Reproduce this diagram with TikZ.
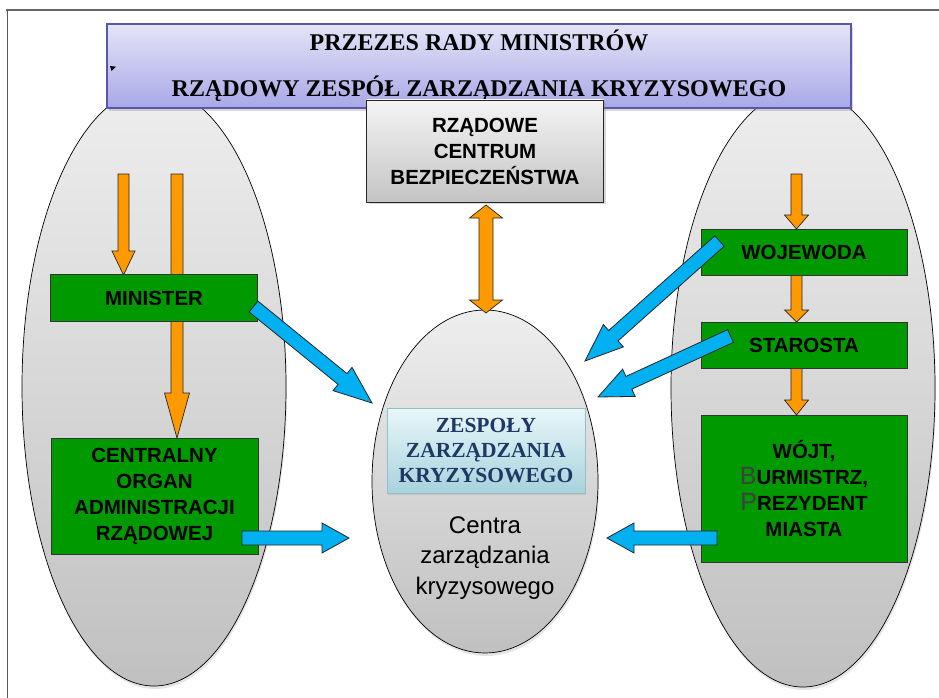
\documentclass[tikz,border=0pt]{standalone}
\usepackage{fontspec}
\setmainfont{Liberation Serif}
\setsansfont{Liberation Sans}
\usetikzlibrary{calc,shadows,shapes.geometric}
\definecolor{ellTop}{RGB}{238,238,238}
\definecolor{ellBot}{RGB}{192,192,192}
\definecolor{lavTop}{RGB}{228,228,248}
\definecolor{lavBot}{RGB}{168,168,230}
\definecolor{lavLine}{RGB}{88,88,170}
\definecolor{rcbTop}{RGB}{244,244,244}
\definecolor{rcbBot}{RGB}{196,196,196}
\definecolor{boxgreen}{RGB}{0,153,0}
\definecolor{arrOrange}{RGB}{255,153,0}
\definecolor{arrBlue}{RGB}{0,176,240}
\definecolor{zesTop}{RGB}{232,247,250}
\definecolor{zesBot}{RGB}{168,210,220}
\definecolor{zesLine}{RGB}{150,190,200}
\definecolor{navy}{RGB}{31,56,100}
\newcommand{\BlkArrow}[6]{%
  \coordinate (hb) at ($(#3)!#6!(#2)$);
  \draw[#1] ($(#2)!#4!90:(#3)$) -- ($(hb)!#4!90:(#3)$) -- ($(hb)!#5!90:(#3)$) -- (#3)
    -- ($(hb)!#5!-90:(#3)$) -- ($(hb)!#4!-90:(#3)$) -- ($(#2)!#4!-90:(#3)$) -- cycle;}
\newcommand{\DblArrow}[6]{%
  \coordinate (ha) at ($(#2)!#6!(#3)$);
  \coordinate (hz) at ($(#3)!#6!(#2)$);
  \draw[#1] (#2) -- ($(ha)!#5!90:(#3)$) -- ($(ha)!#4!90:(#3)$) -- ($(hz)!#4!90:(#3)$)
    -- ($(hz)!#5!90:(#3)$) -- (#3) -- ($(hz)!#5!-90:(#3)$) -- ($(hz)!#4!-90:(#3)$)
    -- ($(ha)!#4!-90:(#3)$) -- ($(ha)!#5!-90:(#3)$) -- cycle;}
\newcommand{\boxfont}{\sffamily\bfseries\fontsize{20.5}{26}\selectfont}
\begin{document}
\begin{tikzpicture}[x=1pt,y=-1pt,
  oval/.style={ellipse, draw=black, line width=0.7pt, top color=ellTop, bottom color=ellBot,
    inner sep=0pt, drop shadow={opacity=0.2, shadow xshift=1pt, shadow yshift=-3pt}},
  greenbox/.style={draw=black!80, line width=0.8pt, fill=boxgreen, font=\boxfont, align=center,
    inner sep=0pt, minimum width=207, text=black},
  orangearr/.style={fill=arrOrange, draw=black!85, line width=0.7pt, line join=miter},
  bluearr/.style={fill=arrBlue, draw=black!85, line width=0.8pt, line join=miter}]
\useasboundingbox (0,0) rectangle (939,698);
\fill[white] (0,0) rectangle (939,698);
% frame
\draw[black!60, line width=1.5pt] (939,10) -- (6,10);
\draw[black!65, line width=0.8pt] (7,10) -- (7,698);
% ellipses
\node[oval, minimum width=264, minimum height=598] (lell) at (154,387) {};
\node[oval, minimum width=264, minimum height=598] (rell) at (803,388) {};
\node[oval, minimum width=226, minimum height=343] (cell) at (485,481.5) {};
% top box
\node[draw=lavLine, line width=1.2pt, top color=lavTop, bottom color=lavBot, minimum width=744,
  minimum height=84, inner sep=0pt, align=center,
  font=\bfseries\fontsize{24}{46}\selectfont,
  drop shadow={opacity=0.3, shadow xshift=2pt, shadow yshift=-3pt}] (top) at (479,66)
  {PRZEZES RADY MINISTRÓW\\RZĄDOWY ZESPÓŁ ZARZĄDZANIA KRYZYSOWEGO};
\fill[black] (110,66) -- (116,66.7) -- (111.6,71) -- cycle;
% RCB box
\node[draw=black!85, line width=0.9pt, top color=rcbTop, bottom color=rcbBot, minimum width=237,
  minimum height=102, inner sep=0pt, align=center, font=\boxfont,
  drop shadow={opacity=0.3, shadow xshift=2pt, shadow yshift=-2pt}] (rcb) at (485,151)
  {RZĄDOWE\\CENTRUM\\BEZPIECZEŃSTWA};
% orange arrows (drawn before boxes)
\coordinate (o1t) at (123.5,174);
\coordinate (o2t) at (177,174);
\coordinate (o3t) at (796.5,174);
\coordinate (o1h) at (123.5,275);
\coordinate (o2h) at (177,438);
\coordinate (o3h) at (796.5,229);
\coordinate (o4t) at (796.5,275);
\coordinate (o4h) at (796.5,322);
\coordinate (o5t) at (796.5,368);
\coordinate (o5h) at (796.5,415);
\coordinate (d1) at (486,205);
\coordinate (d2) at (486,313);
\BlkArrow{orangearr}{o1t}{o1h}{5.5pt}{11.5pt}{24pt}
\BlkArrow{orangearr}{o2t}{o2h}{6pt}{12.5pt}{45pt}
\BlkArrow{orangearr}{o3t}{o3h}{5.5pt}{12pt}{14pt}
\BlkArrow{orangearr}{o4t}{o4h}{5.5pt}{12pt}{12pt}
\BlkArrow{orangearr}{o5t}{o5h}{5.5pt}{12pt}{15pt}
\DblArrow{orangearr}{d1}{d2}{7pt}{16.5pt}{13pt}
% green boxes
\node[greenbox, minimum height=46.5] (minister) at (154,298) {MINISTER};
\node[greenbox, minimum height=116] (central) at (154.5,496)
  {CENTRALNY\\ORGAN\\ADMINISTRACJI\\RZĄDOWEJ};
\node[greenbox, minimum width=206, minimum height=46] (wojewoda) at (804,252) {WOJEWODA};
\node[greenbox, minimum width=206, minimum height=46] (starosta) at (804,345) {STAROSTA};
\node[greenbox, minimum width=206, minimum height=147] (wojt) at (804,488.5)
  {WÓJT,\\{\mdseries\fontsize{25}{26}\selectfont\color{black!75}B}URMISTRZ,\\
   {\mdseries\fontsize{25}{26}\selectfont\color{black!75}P}REZYDENT\\MIASTA};
% centre contents
\node[draw=zesLine, line width=0.8pt, top color=zesTop, bottom color=zesBot, minimum width=198,
  minimum height=85, inner sep=0pt, align=center, text=navy,
  font=\bfseries\fontsize{21.5}{25}\selectfont,
  drop shadow={opacity=0.2, shadow xshift=1pt, shadow yshift=-2pt}] (zesp) at (486,450.5)
  {ZESPOŁY\\ZARZĄDZANIA\\KRYZYSOWEGO};
\node[font=\sffamily\fontsize{24}{30.5}\selectfont, align=center, inner sep=0pt] (centra) at (485,558)
  {Centra\\zarządzania\\kryzysowego};
% blue arrows
\coordinate (b1t) at (253.5,306.5);
\coordinate (b1h) at (372,403);
\coordinate (b2t) at (242,538);
\coordinate (b2h) at (349,538);
\coordinate (b3t) at (719.5,241);
\coordinate (b3h) at (585,361);
\coordinate (b4t) at (730.5,336);
\coordinate (b4h) at (598,397);
\coordinate (b5t) at (717,538);
\coordinate (b5h) at (607,538);
\BlkArrow{bluearr}{b1t}{b1h}{7pt}{15pt}{38pt}
\BlkArrow{bluearr}{b2t}{b2h}{7pt}{15pt}{27pt}
\BlkArrow{bluearr}{b3t}{b3h}{7pt}{15pt}{38pt}
\BlkArrow{bluearr}{b4t}{b4h}{7pt}{15pt}{34pt}
\BlkArrow{bluearr}{b5t}{b5h}{7pt}{15pt}{27pt}
\end{tikzpicture}
\end{document}
